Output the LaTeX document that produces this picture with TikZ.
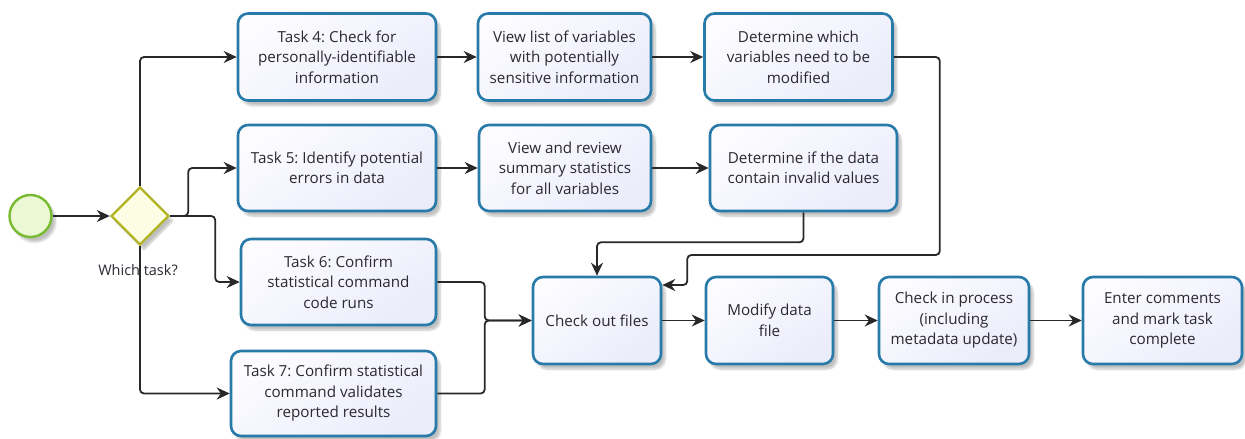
\documentclass[tikz,border=0pt]{standalone}
\usepackage{fontspec}
\setmainfont{Open Sans}
\usetikzlibrary{arrows.meta,shapes.geometric,shadows.blur}
\definecolor{boxborder}{RGB}{40,122,168}
\definecolor{boxtop}{RGB}{252,252,255}
\definecolor{boxbot}{RGB}{234,236,250}
\definecolor{startborder}{RGB}{120,186,48}
\definecolor{startfill}{RGB}{236,248,212}
\definecolor{gateborder}{RGB}{178,178,36}
\definecolor{gatefill}{RGB}{253,253,228}
\definecolor{linecol}{RGB}{40,40,40}
\definecolor{txt}{RGB}{45,40,50}
\frenchspacing
\begin{document}
\begin{tikzpicture}[x=1pt,y=-1pt,
  shad/.style={blur shadow={shadow xshift=4pt, shadow yshift=-5pt, shadow opacity=25, shadow blur steps=6}},
  taskbox/.style={rectangle, rounded corners=10pt, draw=boxborder, line width=2.6pt,
    top color=boxtop, bottom color=boxbot, shading angle=35, align=center, text=txt,
    font=\fontsize{15.2}{20.5}\selectfont, inner sep=1pt, shad},
  startev/.style={circle, draw=startborder, line width=2.4pt, fill=startfill, minimum size=42pt, inner sep=0pt, shad},
  gate/.style={diamond, draw=gateborder, line width=2.4pt, fill=gatefill, minimum width=58pt, minimum height=58pt, inner sep=0pt, shad},
  arr/.style={draw=linecol, line width=1.8pt, rounded corners=4pt, -{Stealth[length=13pt,width=12pt]}},
  lbl/.style={text=txt, font=\fontsize{14.5}{16}\selectfont}
]
\useasboundingbox (0,0) rectangle (1245,439);

% nodes
\node[startev] (s) at (30.5,216) {};
\node[gate] (g) at (140,216) {};
\node[lbl] (wt) at (138,270) {Which task?};

\node[taskbox, minimum width=198pt, minimum height=87pt] (t4) at (337,57) {Task 4: Check for\\personally-identifiable\\information};
\node[taskbox, minimum width=173pt, minimum height=87pt] (vl) at (564.5,57) {View list of variables\\with potentially\\sensitive information};
\node[taskbox, minimum width=188pt, minimum height=87pt] (dw) at (798.5,57) {Determine which\\variables need to be\\modified};

\node[taskbox, minimum width=198pt, minimum height=86pt] (t5) at (337,168) {Task 5: Identify potential\\errors in data};
\node[taskbox, minimum width=172pt, minimum height=86pt] (vr) at (565,168) {View and review\\summary statistics\\for all variables};
\node[taskbox, minimum width=187pt, minimum height=86pt] (di) at (803.5,168) {Determine if the data\\contain invalid values};

\node[taskbox, minimum width=195pt, minimum height=86pt] (t6) at (338.5,282) {Task 6: Confirm\\statistical command\\code runs};
\node[taskbox, minimum width=205pt, minimum height=85pt] (t7) at (333.5,393.5) {Task 7: Confirm statistical\\command validates\\reported results};

\node[taskbox, minimum width=128pt, minimum height=87pt] (co) at (597,320.5) {Check out files};
\node[taskbox, minimum width=127pt, minimum height=87pt] (md) at (769.5,320.5) {Modify data\\file};
\node[taskbox, minimum width=150pt, minimum height=87pt] (ci) at (954,320.5) {Check in process\\(including\\metadata update)};
\node[taskbox, minimum width=159pt, minimum height=87pt] (ec) at (1162.5,320.5) {Enter comments\\and mark task\\complete};

% connectors
\draw[arr] (s) -- (g);
\draw[arr] (g.north) |- (t4.west);
\draw[arr] (g.east) -- ++(18,0) |- (t5.west);
\draw[arr] (g.east) -- ++(45,0) |- (t6.west);
\draw[arr] (g.south) |- (t7.west);

\draw[arr] (t4) -- (vl);
\draw[arr] (vl) -- (dw);
\draw[arr] (t5) -- (vr);
\draw[arr] (vr) -- (di);

\draw[arr] (dw.east) -| ([xshift=46pt, yshift=-198pt]dw.east) -| ([xshift=25pt, yshift=35.5pt]co.east) -- ([yshift=35.5pt]co.east);
\draw[arr] (di.south) -- ++(0,30) -| (co.north);

\draw[arr] (t6.east) -| ([xshift=-47pt]co.west) -- (co.west);
\draw[arr] (t7.east) -| ([xshift=-47pt]co.west) -- (co.west);

\draw[arr] (co) -- (md);
\draw[arr] (md) -- (ci);
\draw[arr] (ci) -- (ec);
\end{tikzpicture}
\end{document}
